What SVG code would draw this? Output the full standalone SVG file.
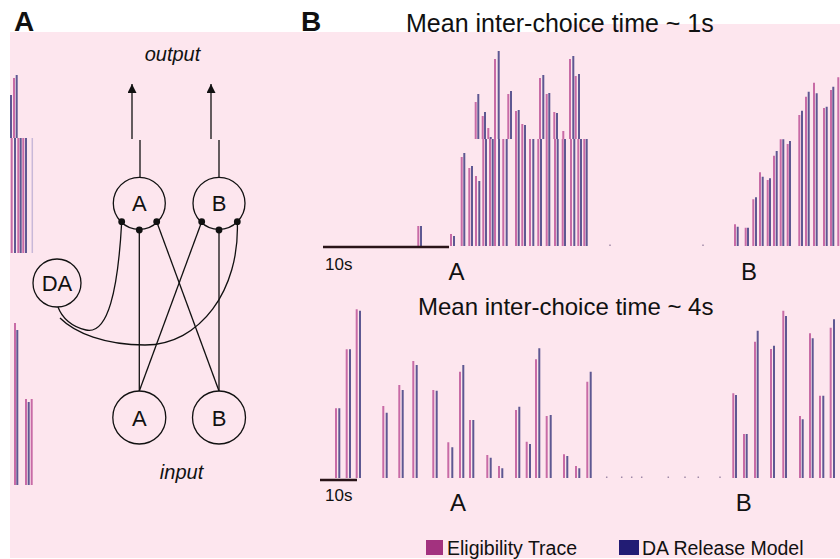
<svg xmlns="http://www.w3.org/2000/svg" width="840" height="559" viewBox="0 0 840 559">
<style>
text{font-family:"Liberation Sans",Arial,sans-serif;fill:#111}
.m{stroke:#c86ba6;stroke-width:2;fill:none}
.b{stroke:#5e5892;stroke-width:2;fill:none}
.dot{stroke:#a08aa8;stroke-width:1.5;fill:none}
.node{fill:none;stroke:#111;stroke-width:1.3}
.conn{fill:none;stroke:#111;stroke-width:1.3}
.nl{font-size:22px;text-anchor:middle}
.ax{font-size:24px;text-anchor:middle}
.scale{stroke:#2a1418;stroke-width:2.5}
.it{font-size:20px;font-style:italic;text-anchor:middle}
</style>
<defs>
<marker id="arr" markerUnits="userSpaceOnUse" markerWidth="10" markerHeight="9" refX="9" refY="4.5" orient="auto">
<path d="M0,0 L9,4.5 L0,9 z" fill="#111"/>
</marker>
</defs>
<rect x="0" y="0" width="840" height="559" fill="#ffffff"/>
<rect x="10" y="32" width="830" height="526" fill="#fde6ee"/>
<rect x="570" y="24" width="270" height="9" fill="#fde6ee"/>

<text x="14" y="31" font-size="28" font-weight="bold">A</text>
<text x="301" y="31" font-size="28" font-weight="bold">B</text>

<!-- left edge fragments -->
<path class="m" d="M14 138V78M11.7 253V138M18.3 253V138M23.3 253V138M15 485V323M26 485V399M31.7 485V399"/>
<path class="b" d="M11 138V95M16.7 138V75M15 253V138M20.7 253V138M26 253V138M17.3 485V330M28.7 485V402"/>
<path d="M32.3 253V138" stroke="#c8b8d8" stroke-width="1.5"/>

<!-- Panel A network -->
<g id="connectors">
<line class="conn" x1="132" y1="139" x2="132" y2="84" marker-end="url(#arr)"/>
<line class="conn" x1="211" y1="139" x2="211" y2="84" marker-end="url(#arr)"/>
<line class="conn" x1="140" y1="140" x2="140" y2="177"/>
<line class="conn" x1="219" y1="140" x2="219" y2="177"/>
<line class="conn" x1="139.3" y1="230" x2="139.3" y2="391"/>
<line class="conn" x1="219" y1="230" x2="219" y2="391"/>
<line class="conn" x1="156.7" y1="221.7" x2="219" y2="391"/>
<line class="conn" x1="201.7" y1="221.7" x2="139.3" y2="391"/>
<path class="conn" d="M121.7 221.7C118 290 108 335 86 330C72 327 62 318 58 307"/>
<path class="conn" d="M237.3 221.7C240 290 200 345 145 345C105 345 75 333 60 318"/>
</g>
<g id="nodeOutA">
<circle class="node" cx="139.3" cy="203.3" r="26"/>
<text class="nl" x="139.3" y="211.3">A</text>
<circle cx="121.7" cy="221.7" r="3.4" fill="#111"/>
<circle cx="139.3" cy="230" r="3.4" fill="#111"/>
<circle cx="156.7" cy="221.7" r="3.4" fill="#111"/>
</g>
<g id="nodeOutB">
<circle class="node" cx="219" cy="203.3" r="26"/>
<text class="nl" x="219" y="211.3">B</text>
<circle cx="201.7" cy="221.7" r="3.4" fill="#111"/>
<circle cx="219" cy="230" r="3.4" fill="#111"/>
<circle cx="237.3" cy="221.7" r="3.4" fill="#111"/>
</g>
<g id="nodeDA">
<circle class="node" cx="57" cy="283" r="24" fill="#fde6ee"/>
<text class="nl" x="57" y="290.5">DA</text>
</g>
<g id="nodeInA">
<circle class="node" cx="139.3" cy="417.5" r="26.5"/>
<text class="nl" x="139.3" y="425.5">A</text>
</g>
<g id="nodeInB">
<circle class="node" cx="219" cy="417.5" r="26.5"/>
<text class="nl" x="219" y="425.5">B</text>
</g>
<text class="it" x="172.5" y="61">output</text>
<text class="it" x="181.5" y="479">input</text>

<!-- Panel B top chart -->
<text x="406" y="32" font-size="25">Mean inter-choice time ~ 1s</text>
<path class="m" d="M418.3 246V226M451 246V234M461.7 246V157M469.3 246V168M476 246V176M483.3 246V139M490 246V139M495 246V139M503.3 246V139M516 246V139M522.3 246V139M530 246V139M538.3 246V139M546.7 246V139M555 246V139M562.7 246V139M571 246V139M578.3 246V139M584.3 246V139
M475.7 139V102M482.7 139V116M488.3 139V128M495 139V59M508.3 139V94M516 139V111M522.3 139V124M540 139V78M546.7 139V94M554.3 139V112M563.3 139V131M570 139V59M575.7 139V76
M735 246V224.3M745.7 246V227.7M753.3 246V199.3M760 246V172.3M767.7 246V180M774 246V155.7M780.7 246V139.3M787.7 246V144M799.3 246V115M806 246V96.7M814 246V82.7M824 246V108M831 246V90M838.3 246V77.3"/>
<path class="b" d="M421 246V226M454 246V236M464.3 246V153M472 246V166M479.3 246V181M486 246V139M492.7 246V139M499 246V139M506.7 246V139M518.7 246V139M525 246V139M533.3 246V139M541 246V139M549.3 246V139M557.7 246V139M565 246V139M574.3 246V139M581 246V139M586.7 246V139
M478.3 139V94M485 139V112M490.7 139V137M498.7 139V51M511 139V91M518.7 139V110M525 139V125M543.3 139V75M549.3 139V93M557 139V113M573.3 139V56M579 139V74
M737.7 246V226.7M748 246V227.7M756 246V197.3M762.7 246V176.7M770 246V178.3M776.7 246V151M783.3 246V139.3M790 246V141M802 246V110.7M808.7 246V91.7M816.7 246V93.3M826.7 246V106.7M833.3 246V86.7"/>
<path class="dot" d="M610 246V244.5M703 246V244.5"/>
<line class="scale" x1="323" y1="247" x2="449" y2="247"/>
<text x="325" y="270" font-size="17">10s</text>
<text class="ax" x="456.5" y="280">A</text>
<text class="ax" x="749" y="280">B</text>

<!-- Panel B bottom chart -->
<text x="418" y="315" font-size="24">Mean inter-choice time ~ 4s</text>
<path class="m" d="M336 478V408.3M346.7 478V349.3M356.7 478V309.3M383.3 478V406M399.3 478V385M413.3 478V361M433.3 478V390M448.3 478V442.3M460 478V371.7M470 478V420M487.3 478V455M499 478V466M516 478V410M526.7 478V441.7M536 478V359.3M546.7 478V416M564 478V454.3M576 478V466M587.3 478V381.7M733.3 478V393.3M744 478V434M755 478V341.7M771 478V349M783.3 478V310.7M800 478V416M810 478V333.3M820 478V395.7M830.7 478V327.7"/>
<path class="b" d="M339.3 478V408.3M350 478V349.3M360 478V310.7M386.7 478V412.7M402.7 478V390M416.7 478V365M436.7 478V390.7M452.3 478V447.3M463.3 478V365M473.3 478V420M490.7 478V457.7M502.3 478V468.3M519.3 478V406.7M530 478V444M539.3 478V348.3M550.7 478V415M567.3 478V456M579.3 478V468.3M590.7 478V371.7M736 478V395M746.7 478V434M757.7 478V330.7M774 478V345.7M786 478V316M802.7 478V419.3M812.7 478V338.3M823.3 478V395.7M834 478V319.3"/>
<path class="dot" d="M606.7 478V476.5M621.7 478V476.5M631.7 478V476.5M641.7 478V476.5M668.3 478V476.5M685 478V476.5M698.3 478V476.5M720 478V476.5"/>
<line class="scale" x1="320" y1="480" x2="357" y2="480"/>
<text x="325" y="501" font-size="17">10s</text>
<text class="ax" x="458" y="511">A</text>
<text class="ax" x="743.7" y="511">B</text>

<!-- Legend -->
<rect x="426" y="540" width="17" height="15" fill="#a3327f"/>
<text x="447" y="555" font-size="19.5">Eligibility Trace</text>
<rect x="619" y="540" width="20" height="15" fill="#221c74"/>
<text x="642" y="555" font-size="19.5">DA Release Model</text>
</svg>
